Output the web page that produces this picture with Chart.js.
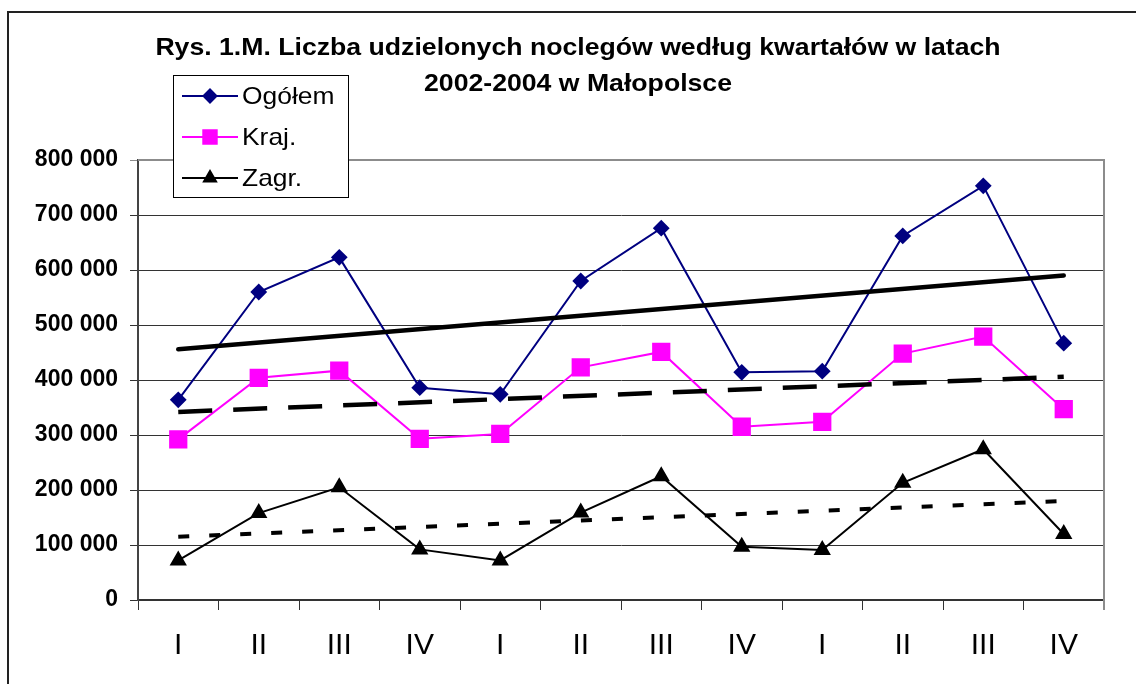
<!DOCTYPE html>
<html><head><meta charset="utf-8">
<script src="https://cdn.jsdelivr.net/npm/chart.js@4.4.0/dist/chart.umd.min.js"></script>
<style>html,body{margin:0;padding:0;background:#fff}canvas{display:block}</style>
</head><body>
<canvas id="c" width="1136" height="684"></canvas>
<script>
const titleLines = ['Rys. 1.M. Liczba udzielonych noclegów według kwartałów w latach', '2002-2004 w Małopolsce'];
const categories = ['I','II','III','IV','I','II','III','IV','I','II','III','IV'];
const seriesNames = ['Ogółem', 'Kraj.', 'Zagr.'];
const ogolem = [364000, 560000, 623000, 386000, 374000, 580000, 676000, 414000, 416000, 662000, 753000, 467000];
const kraj   = [292000, 404000, 417000, 293000, 302000, 423000, 451000, 315000, 324000, 448000, 479000, 347000];
const zagr   = [72000, 158000, 205000, 92000, 72000, 159000, 225000, 97000, 91000, 213000, 274000, 120000];
// trend lines: start and end values
const trendOgolem = [456000, null, null, null, null, null, null, null, null, null, null, 590000];
const trendKraj   = [342000, null, null, null, null, null, null, null, null, null, null, 406000];
const trendZagr   = [115000, null, null, null, null, null, null, null, null, null, null, 180000];
const yMin = 0, yMax = 800000, yStep = 100000;

const FONT = "'Liberation Sans', Arial, sans-serif";

function fmt(v){ return String(v).replace(/\B(?=(\d{3})+(?!\d))/g, ' '); }

function wideText(ctx, text, x, y, sx){
  ctx.save();
  ctx.translate(x, y);
  ctx.scale(sx, 1);
  ctx.fillText(text, 0, 0);
  ctx.restore();
}

const decor = {
  id: 'decor',
  beforeDraw(chart){
    const ctx = chart.ctx;
    ctx.save();
    ctx.fillStyle = '#fff';
    ctx.fillRect(0,0,chart.width,chart.height);
    ctx.restore();
  },
  beforeDatasetsDraw(chart){
    const ctx = chart.ctx, a = chart.chartArea;
    ctx.save();
    ctx.strokeStyle = '#8c8c8c';
    ctx.lineWidth = 2;
    ctx.beginPath();
    ctx.moveTo(a.left, a.top); ctx.lineTo(a.right, a.top); ctx.lineTo(a.right, a.bottom + 10);
    ctx.stroke();
    ctx.restore();
  },
  afterDraw(chart){
    const ctx = chart.ctx;
    ctx.save();
    // outer border
    ctx.strokeStyle = '#222';
    ctx.lineWidth = 2;
    ctx.beginPath();
    ctx.moveTo(8, chart.height); ctx.lineTo(8, 12); ctx.lineTo(chart.width, 12);
    ctx.stroke();
    // title
    ctx.fillStyle = '#000';
    ctx.font = 'bold 24px ' + FONT;
    ctx.textAlign = 'center';
    ctx.textBaseline = 'middle';
    wideText(ctx, titleLines[0], 578, 48, 1.11);
    wideText(ctx, titleLines[1], 578, 84, 1.11);
    // legend
    const lx = 173, ly = 75, lw = 175, lh = 122;
    ctx.fillStyle = '#fff';
    ctx.fillRect(lx, ly, lw, lh);
    ctx.strokeStyle = '#000';
    ctx.lineWidth = 1;
    ctx.strokeRect(lx + 0.5, ly + 0.5, lw, lh);
    const ds = chart.data.datasets;
    const legendRadius = [6.5, 9.5, 7];
    for (let i = 0; i < 3; i++) {
      const d = ds[i];
      const y = 96 + i * 41;
      ctx.strokeStyle = d.borderColor;
      ctx.lineWidth = d.borderWidth;
      ctx.setLineDash([]);
      ctx.beginPath(); ctx.moveTo(182, y); ctx.lineTo(238, y); ctx.stroke();
      ctx.fillStyle = d.pointBackgroundColor;
      ctx.strokeStyle = d.pointBorderColor;
      Chart.helpers.drawPoint(ctx, {pointStyle: d.pointStyle, radius: legendRadius[i], rotation: 0, borderWidth: 1}, 210, y);
      ctx.fillStyle = '#000';
      ctx.font = '24px ' + FONT;
      ctx.textAlign = 'left';
      ctx.textBaseline = 'middle';
      wideText(ctx, d.label, 242, y + 1, 1.1);
    }
    ctx.restore();
  }
};

new Chart(document.getElementById('c'), {
  type: 'line',
  data: {
    labels: categories,
    datasets: [
      { label: seriesNames[0], data: ogolem, borderColor: '#000080', borderWidth: 2,
        pointStyle: 'rectRot', pointRadius: 7, pointBackgroundColor: '#000080', pointBorderColor: '#000080', order: 3 },
      { label: seriesNames[1], data: kraj, borderColor: '#ff00ff', borderWidth: 2,
        pointStyle: 'rect', pointRadius: 11.5, pointBackgroundColor: '#ff00ff', pointBorderColor: '#ff00ff', order: 2 },
      { label: seriesNames[2], data: zagr, borderColor: '#000000', borderWidth: 2,
        pointStyle: 'triangle', pointRadius: 8, pointBackgroundColor: '#000000', pointBorderColor: '#000000', order: 1 },
      { label: 'trend ' + seriesNames[0], data: trendOgolem, borderColor: '#000', borderWidth: 4.5, spanGaps: true,
        pointRadius: 0, borderCapStyle: 'round', order: 0 },
      { label: 'trend ' + seriesNames[1], data: trendKraj, borderColor: '#000', borderWidth: 4.5, spanGaps: true,
        borderDash: [34, 21], pointRadius: 0, order: 0 },
      { label: 'trend ' + seriesNames[2], data: trendZagr, borderColor: '#000', borderWidth: 4, spanGaps: true,
        borderDash: [11, 20], pointRadius: 0, order: 0 }
    ]
  },
  options: {
    responsive: false,
    animation: false,
    events: [],
    layout: { padding: { left: 0, top: 160, right: 32, bottom: 0 } },
    plugins: { legend: { display: false }, title: { display: false }, tooltip: { enabled: false } },
    elements: { line: { tension: 0 } },
    scales: {
      x: {
        offset: true,
        grid: { offset: true, drawOnChartArea: false, drawTicks: true, tickLength: 10, color: '#333', lineWidth: 1 },
        border: { display: true, color: '#333', width: 2 },
        ticks: { color: '#000', font: { family: FONT, size: 30 }, padding: 18, maxRotation: 0, autoSkip: false },
        afterFit(s){ s.height = 84; }
      },
      y: {
        min: yMin, max: yMax,
        grid: { color: (c) => c.tick && c.tick.value === yMax ? '#8c8c8c' : '#333', lineWidth: 1, tickLength: 8, drawTicks: true },
        border: { display: true, color: '#444', width: 2 },
        ticks: { stepSize: yStep, color: '#000', font: { family: FONT, size: 23, weight: 'bold' }, padding: 12,
                 callback: (v) => fmt(v) },
        afterFit(s){ s.width = 138; }
      }
    }
  },
  plugins: [decor]
});
</script>
</body></html>
